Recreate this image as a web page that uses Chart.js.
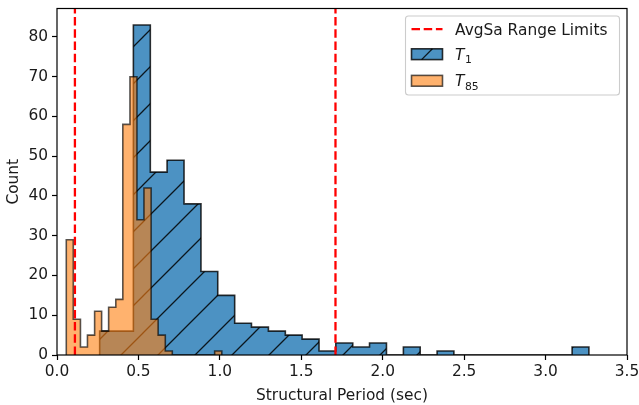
<!DOCTYPE html>
<html>
<head>
<meta charset="utf-8">
<script src="https://cdn.jsdelivr.net/npm/chart.js@4"></script>
<style>
    html, body { margin: 0; padding: 0; background: #fff; }
    canvas { display: block; }
</style>
</head>
<body>
<canvas id="chart" width="639" height="405"></canvas>
<script>
// histogram bins
const t1Edges  = [0.262, 0.366, 0.469, 0.573, 0.676, 0.780, 0.884, 0.987, 1.091, 1.194,
                  1.298, 1.402, 1.505, 1.609, 1.712, 1.816, 1.919, 2.023, 2.127, 2.230,
                  2.334, 2.437, 2.541, 2.645, 2.748, 2.852, 2.955, 3.059, 3.163, 3.266]
const t1Counts = [6, 6, 83, 46, 49, 38, 21, 15, 8, 7, 6, 5, 4, 1, 3, 2, 3, 0, 2, 0,
                  1, 0, 0, 0, 0, 0, 0, 0, 2]

const t85Edges  = [0.057, 0.100, 0.144, 0.187, 0.231, 0.274, 0.317, 0.361, 0.404, 0.448,
                   0.491, 0.534, 0.578, 0.621, 0.665, 0.708, 0.751, 0.795, 0.838, 0.882,
                   0.925, 0.968, 1.012]
const t85Counts = [29, 9, 2, 5, 11, 6, 12, 14, 58, 70, 34, 42, 9, 5, 1, 0, 0, 0, 0, 0, 0, 1]

const avgSaLimits = [0.11, 1.71]

const xTicks = [0, 0.5, 1, 1.5, 2, 2.5, 3, 3.5]
const yTicks = [0, 10, 20, 30, 40, 50, 60, 70, 80]
const xMax   = 3.5
const yMax   = 87.15

const FS   = 15.4
const FONT = 'DejaVu Sans'

Chart.defaults.font.family = FONT
Chart.defaults.color = '#1a1a1a'

function stepPoints(edges, counts) {
    const pts = [{ x: edges[0], y: 0 }]
    counts.forEach((c, i) => pts.push({ x: edges[i], y: c }))
    pts.push({ x: edges[edges.length - 1], y: 0 })
    return pts
}

function limitPoints(limits) {
    const pts = []
    limits.forEach(v => pts.push({ x: v, y: 0 }, { x: v, y: yMax }, { x: v, y: null }))
    return pts
}

function hatchPattern(fill, line, size, shift) {
    const c = document.createElement('canvas')
    c.width = c.height = size
    const g = c.getContext('2d')
    g.fillStyle = fill
    g.fillRect(0, 0, size, size)
    g.strokeStyle = line
    g.lineWidth = 1.3
    g.beginPath()
    g.moveTo(-2, size + 2);   g.lineTo(size + 2, -2)
    g.moveTo(-2, 2);          g.lineTo(2, -2)
    g.moveTo(size - 2, size + 2); g.lineTo(size + 2, size - 2)
    g.stroke()
    const p = g.createPattern(c, 'repeat')
    p.setTransform(new DOMMatrix([1, 0, 0, 1, shift, 0]))
    return p
}

const BLUE      = 'rgb(76,146,195)'
const ORANGE    = 'rgba(255,127,14,0.6)'
const blueHatch = hatchPattern(BLUE, 'rgba(0,0,0,0.85)', 37, 32)

const frame = {
    id: 'frame',
    afterDatasetsDraw(chart) {
        const { ctx, chartArea: a } = chart
        ctx.save()
        ctx.strokeStyle = '#000'
        ctx.lineWidth = 1.2
        ctx.strokeRect(a.left, a.top, a.right - a.left, a.bottom - a.top)
        ctx.restore()
    }
}

const boxLegend = {
    id: 'boxLegend',
    afterDraw(chart) {
        const { ctx, chartArea: a } = chart
        const w = 214, h = 79
        const left = a.right - 7.5 - w, top = a.top + 7.5
        const rows = [13.2, 38.2, 64.8]
        ctx.save()
        ctx.beginPath()
        ctx.roundRect(left, top, w, h, 3)
        ctx.fillStyle = 'rgba(255,255,255,0.8)'
        ctx.fill()
        ctx.strokeStyle = '#cccccc'
        ctx.lineWidth = 1.1
        ctx.stroke()

        chart.data.datasets.forEach((ds, i) => {
            const yc = top + rows[i]
            const hx = left + 6, hw = 31, hh = 10.8
            if (ds.fill === false) {
                ctx.beginPath()
                ctx.setLineDash(ds.borderDash)
                ctx.strokeStyle = ds.borderColor
                ctx.lineWidth = ds.borderWidth
                ctx.moveTo(hx, yc); ctx.lineTo(hx + hw, yc)
                ctx.stroke()
                ctx.setLineDash([])
            } else {
                ctx.fillStyle = ds.faceColor
                ctx.fillRect(hx, yc - hh / 2, hw, hh)
                if (ds.hatch) {
                    ctx.beginPath()
                    ctx.strokeStyle = 'rgba(0,0,0,0.85)'
                    ctx.lineWidth = 1.3
                    ctx.moveTo(hx + hw / 2 - hh / 2, yc + hh / 2)
                    ctx.lineTo(hx + hw / 2 + hh / 2, yc - hh / 2)
                    ctx.stroke()
                }
                ctx.strokeStyle = ds.borderColor
                ctx.lineWidth = ds.borderWidth
                ctx.strokeRect(hx, yc - hh / 2, hw, hh)
            }
            const [base, sub] = ds.label.split('_')
            const tx = left + 49.5, ty = yc + 5.6
            ctx.fillStyle = '#1a1a1a'
            ctx.textBaseline = 'alphabetic'
            ctx.textAlign = 'left'
            ctx.font = (sub ? 'italic ' : '') + FS + 'px "' + FONT + '"'
            ctx.fillText(base, tx, ty)
            if (sub) {
                const bw = ctx.measureText(base).width
                ctx.font = (FS * 0.7).toFixed(1) + 'px "' + FONT + '"'
                ctx.fillText(sub, tx + bw + 0.5, ty + 3.5)
            }
        })
        ctx.restore()
    }
}

const chart = new Chart(document.getElementById('chart'), {
    type: 'line',
    data: {
        datasets: [{
            label: 'AvgSa Range Limits',
            data: limitPoints(avgSaLimits),
            borderColor: 'red',
            borderWidth: 2.3,
            borderDash: [8.5, 3.7],
            pointRadius: 0,
            fill: false,
            order: 0
        }, {
            label: 'T_1',
            data: stepPoints(t1Edges, t1Counts),
            stepped: true,
            borderColor: 'rgba(0,0,0,0.8)',
            borderWidth: 1.6,
            backgroundColor: blueHatch,
            faceColor: BLUE,
            hatch: true,
            pointRadius: 0,
            fill: 'origin',
            order: 2
        }, {
            label: 'T_85',
            data: stepPoints(t85Edges, t85Counts),
            stepped: true,
            borderColor: 'rgba(0,0,0,0.65)',
            borderWidth: 1.6,
            backgroundColor: ORANGE,
            faceColor: ORANGE,
            pointRadius: 0,
            fill: 'origin',
            order: 1
        }]
    },
    options: {
        responsive: false,
        animation: false,
        events: [],
        devicePixelRatio: 1,
        layout: { padding: { left: 0, right: 12, top: 8.5, bottom: 0 } },
        plugins: { legend: { display: false }, tooltip: { enabled: false } },
        scales: {
            x: {
                type: 'linear',
                min: 0,
                max: xMax,
                afterBuildTicks: s => { s.ticks = xTicks.map(v => ({ value: v })) },
                afterFit: s => { s.height = 50; s.paddingLeft = s.paddingRight = 0 },
                grid: { display: true, drawOnChartArea: false, drawTicks: true,
                        tickLength: 5, tickWidth: 1.2, tickColor: '#000' },
                border: { display: false },
                ticks: { font: { size: FS }, padding: 3, maxRotation: 0,
                         callback: v => v.toFixed(1) },
                title: { display: true, text: 'Structural Period (sec)',
                         font: { size: FS, lineHeight: 1 }, padding: { top: 0, bottom: 1.3 } }
            },
            y: {
                min: 0,
                max: yMax,
                afterBuildTicks: s => { s.ticks = yTicks.map(v => ({ value: v })) },
                afterFit: s => { s.width = 57; s.paddingTop = s.paddingBottom = 0 },
                grid: { display: true, drawOnChartArea: false, drawTicks: true,
                        tickLength: 5, tickWidth: 1.2, tickColor: '#000' },
                border: { display: false },
                ticks: { font: { size: FS }, padding: 4 },
                title: { display: true, text: 'Count',
                         font: { size: FS, lineHeight: 1 }, padding: { top: 6, bottom: 0 } }
            }
        }
    },
    plugins: [frame, boxLegend]
})
</script>
</body>
</html>
